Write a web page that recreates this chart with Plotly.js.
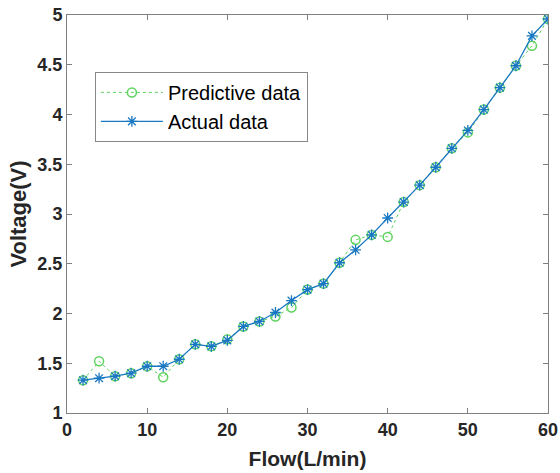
<!DOCTYPE html>
<html><head><meta charset="utf-8">
<script src="https://cdn.plot.ly/plotly-3.0.1.min.js"></script>
<style>html,body{margin:0;padding:0;background:#fff}#chart{width:560px;height:473px}</style>
</head><body><div id="chart"></div>
<script>
const flow = [2,4,6,8,10,12,14,16,18,20,22,24,26,28,30,32,34,36,38,40,42,44,46,48,50,52,54,56,58,60];
const actualVoltage = [1.33,1.35,1.37,1.40,1.47,1.47,1.54,1.69,1.67,1.73,1.87,1.92,2.01,2.13,2.24,2.30,2.51,2.64,2.79,2.96,3.12,3.29,3.47,3.66,3.84,4.05,4.27,4.49,4.79,4.96];
const predictedVoltage = [1.33,1.52,1.37,1.40,1.47,1.36,1.54,1.69,1.67,1.74,1.87,1.92,1.97,2.06,2.24,2.30,2.51,2.74,2.79,2.77,3.12,3.29,3.47,3.66,3.82,4.05,4.27,4.49,4.69,4.96];
const xTicks = [0,10,20,30,40,50,60];
const yTicks = [1,1.5,2,2.5,3,3.5,4,4.5,5];

const traces = [
  {x: flow, y: predictedVoltage, name: 'Predictive data', mode: 'lines+markers',
   line: {color: '#5fd35f', width: 1, dash: 'dot'},
   marker: {symbol: 'circle-open', size: 9, color: '#5fd35f', line: {width: 1.5}}},
  {x: flow, y: actualVoltage, name: 'Actual data', mode: 'lines+markers',
   line: {color: '#1a78c2', width: 1.3},
   marker: {symbol: 'asterisk-open', size: 9, color: '#1a78c2', line: {width: 1.3, color: '#1a78c2'}}}
];
const F = 'Liberation Sans, Arial, sans-serif';
const axisCommon = {showgrid: false, zeroline: false, showline: true, linecolor: '#808080', linewidth: 1,
  mirror: 'ticks', ticks: 'inside', ticklen: 5, tickcolor: '#808080',
  tickfont: {family: F, size: 18, color: '#262626', weight: 'bold'}};
const layout = {
  width: 560, height: 473,
  margin: {l: 67, r: 12, t: 15, b: 60},
  paper_bgcolor: '#fff', plot_bgcolor: '#fff',
  showlegend: true,
  legend: {x: 0.058, y: 0.857, xanchor: 'left', yanchor: 'top', bgcolor: '#fff', bordercolor: '#888', borderwidth: 1,
    itemwidth: 62, tracegroupgap: 0,
    font: {family: F, size: 20, color: '#000'}},
  xaxis: Object.assign({}, axisCommon, {range: [0, 60], tickvals: xTicks,
    title: {text: 'Flow(L/min)', standoff: 12, font: {family: F, size: 21, color: '#262626', weight: 'bold'}}}),
  yaxis: Object.assign({}, axisCommon, {range: [1, 5], tickvals: yTicks,
    title: {text: 'Voltage(V)', standoff: 4, font: {family: F, size: 22, color: '#262626', weight: 'bold'}}})
};
Plotly.newPlot('chart', traces, layout, {displayModeBar: false, staticPlot: true});
</script></body></html>
